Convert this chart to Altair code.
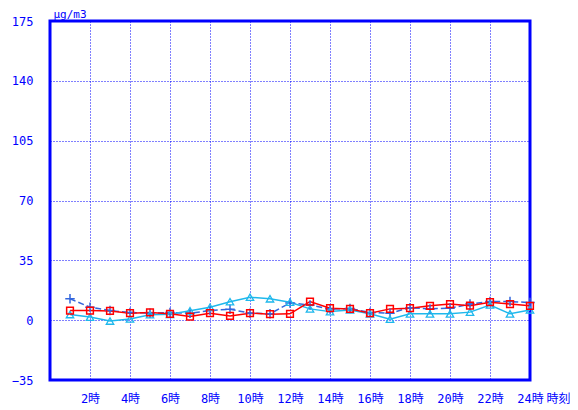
import altair as alt
import pandas as pd

hours = list(range(1, 25))
red_vals = [5.6, 5.6, 5.4, 4.1, 4.5, 3.7, 2.1, 4.1, 2.5, 4.1, 3.5, 3.7,
            10.9, 7.0, 6.6, 4.1, 6.6, 7.0, 8.4, 9.4, 8.5, 10.5, 9.4, 8.4]
cyan_vals = [3.3, 1.8, -0.5, 0.7, 3.2, 3.4, 5.5, 7.6, 10.8, 13.4, 12.5, 10.5,
             6.6, 5.0, 6.0, 3.7, 0.6, 3.7, 3.7, 3.7, 4.7, 8.9, 3.7, 6.0]
blue_vals = [12.5, 7.6, 5.6, 4.5, 4.1, 4.5, 4.1, 5.6, 6.4, 4.1, 3.7, 10.1,
             8.9, 6.5, 6.8, 4.5, 4.1, 7.3, 6.6, 7.0, 9.4, 10.9, 10.9, 10.3]
x_ticks = list(range(2, 25, 2))
y_ticks = [-35, 0, 35, 70, 105, 140, 175]

df = pd.DataFrame({"hour": hours, "red": red_vals, "cyan": cyan_vals, "blue": blue_vals})

FONT = "DejaVu Sans Mono, Noto Sans CJK JP"
AXC = "#0000FF"

x = alt.X("hour:Q",
          scale=alt.Scale(domain=[0, 24], nice=False, zero=False),
          axis=alt.Axis(values=x_ticks, labelExpr="datum.value + '時'",
                        grid=True, gridColor=AXC, gridDash=[1, 2], gridWidth=1,
                        ticks=False, domain=False, labelColor=AXC, labelFont=FONT,
                        labelFontSize=12, labelPadding=18, labelBaseline="middle",
                        labelFlush=False, labelOverlap=False,
                        title="時刻", titleFont=FONT, titleFontSize=12,
                        titleFontWeight="normal", titleColor=AXC,
                        titleX=496, titleY=18, titleAlign="left", titleBaseline="middle"))

def yenc(field):
    return alt.Y(f"{field}:Q",
                 scale=alt.Scale(domain=[-35, 175], nice=False, zero=False),
                 axis=alt.Axis(values=y_ticks, grid=True, gridColor=AXC, gridDash=[1, 2],
                               gridWidth=1, ticks=False, domain=False, labelColor=AXC,
                               labelFont=FONT, labelFontSize=12, labelPadding=17,
                               labelFlush=False, labelOverlap=False,
                               title="μg/m3", titleFont=FONT, titleFontSize=11,
                               titleFontWeight="normal", titleColor=AXC, titleAngle=0,
                               titleX=3, titleY=-13, titleAlign="left",
                               titleBaseline="top"))

base = alt.Chart(df)

red_line = base.mark_line(color="#FF0000", strokeWidth=1.5).encode(x=x, y=yenc("red"))
red_pts = base.mark_point(shape="square", filled=False, color="#FF0000", size=45,
                          strokeWidth=1.5, opacity=1).encode(x=x, y=yenc("red"))
cyan_line = base.mark_line(color="#1EB8EC", strokeWidth=1.5).encode(x=x, y=yenc("cyan"))
cyan_pts = base.mark_point(shape="triangle-up", filled=False, color="#1EB8EC", size=55,
                           strokeWidth=1.3, opacity=1).encode(x=x, y=yenc("cyan"))
blue_line = base.mark_line(color="#3366DD", strokeWidth=1.5, strokeDash=[6, 3]).encode(
    x=x, y=yenc("blue"))
blue_pts = base.mark_point(shape="M-1,0L1,0M0,-1L0,1", filled=False, color="#3366DD",
                           size=90, strokeWidth=1.5, opacity=1).encode(x=x, y=yenc("blue"))

chart = alt.layer(blue_line, cyan_line, red_line, blue_pts, cyan_pts, red_pts).properties(
    width=480, height=359, autosize="none", background="white",
    padding={"left": 42, "top": 13, "right": 40, "bottom": 30}
).configure_view(stroke=AXC, strokeWidth=3)

chart.save("out.html", embed_options={"renderer": "svg", "actions": False})
